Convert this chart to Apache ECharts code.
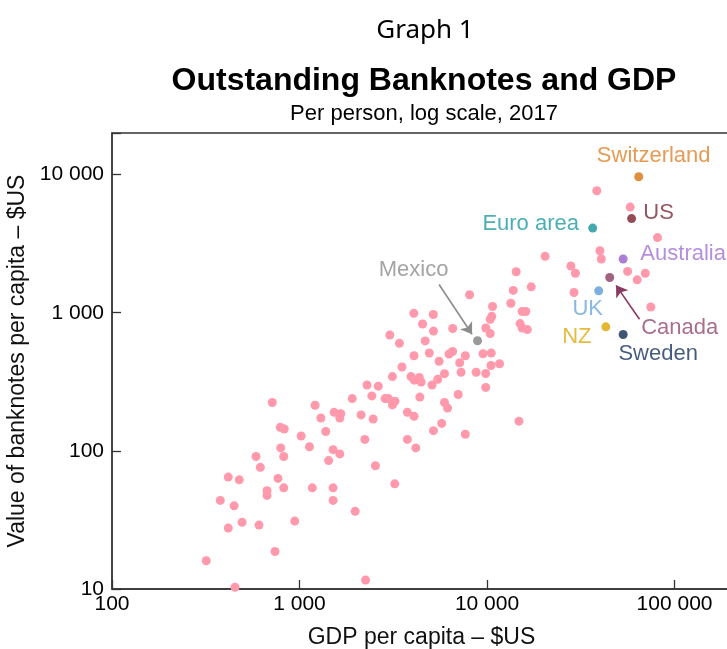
<!DOCTYPE html>
<html>
<head>
<meta charset="utf-8">
<script src="https://cdn.jsdelivr.net/npm/echarts@6/dist/echarts.min.js"></script>
<style>
  html, body { margin: 0; padding: 0; background: #fff; }
  #chart { width: 727px; height: 649px; }
</style>
</head>
<body>
<div id="chart"></div>
<script>
// other economies (pink dots): GDP per capita and banknotes per capita, $US
var gdp = [
    716, 1210, 1300, 1530, 1660, 1640, 1910, 2130, 2290, 2430,
    2630, 2470, 2860, 2980, 3130, 3520, 3130, 3230, 3760, 3930,
    3760, 790, 829, 1020, 1380, 794, 1130, 1510, 1640, 2230,
    1430, 586, 618, 824, 2540, 417, 477, 768, 671, 671,
    824, 1170, 1510, 1510, 3220, 378, 448, 417, 494, 608,
    943, 1980, 740, 318, 2250, 453, 4080, 4920, 6270, 6550,
    7660, 9520, 10530, 5550, 7150, 10500, 11660, 4090, 4350, 4450,
    5090, 5460, 5930, 7270, 8750, 9840, 9840, 4380, 7020, 5930,
    6160, 4080, 5730, 5180, 7660, 4170, 14800, 8070, 4070, 5170,
    10700, 13400, 13800, 4530, 5180, 6560, 10600, 10400, 9850, 10400,
    3030, 3410, 4680, 20400, 28000, 29600, 14300, 17200, 29100, 15400,
    16100, 15000, 15400, 16400, 38500, 58000, 81100, 40000, 40700, 56200,
    63200, 69800, 74700
];
var notes = [
    224, 214, 173, 190, 186, 173, 239, 182, 300, 250,
    294, 170, 239, 239, 345, 405, 215, 229, 190, 345,
    121, 148, 144, 128, 138, 105, 107, 102, 95, 121,
    85, 91, 76, 91, 78, 64.6, 61.7, 63.2, 51.4, 47.6,
    54, 54, 54, 43.8, 57.7, 43.8, 40, 27.6, 30.4, 29,
    31, 36.5, 18.7, 16, 11.6, 10.3, 488, 511, 503, 524,
    488, 505, 511, 445, 434, 415, 427, 325, 340, 315,
    300, 330, 362, 371, 371, 363, 288, 245, 256, 224,
    204, 178, 158, 140, 132, 105, 164, 1350, 990, 971,
    1110, 1170, 1450, 829, 736, 769, 942, 896, 775, 706,
    690, 601, 625, 2560, 2180, 1930, 1980, 1540, 1400, 1020,
    1020, 834, 775, 755, 7640, 5820, 3500, 2810, 2450, 1990,
    1730, 1930, 1100
];

// highlighted economies
var countries = ['Switzerland', 'US', 'Euro area', 'Australia', 'Canada', 'UK', 'NZ', 'Sweden', 'Mexico'];
var countryGdp = [64400, 59000, 36600, 53200, 45100, 39400, 43000, 53200, 8900];
var countryNotes = [9640, 4800, 4100, 2450, 1800, 1440, 790, 695, 627];

// arrows (data space): [from, to]
var mexicoArrow = [[5550, 1600], [8320, 698]];
var canadaArrow = [[65000, 896], [48750, 1578]];

var xTicks = [100, 1000, 10000, 100000];
var yTicks = [10, 100, 1000, 10000];

// styles per country: dot colour, label colour, label offset from dot centre
var countryStyle = {
    'Switzerland': { dot: '#d8730e', text: '#e0822a', offset: [15, -21] },
    'US':          { dot: '#7a1f2d', text: '#7a2a3a', offset: [27, -6] },
    'Euro area':   { dot: '#16929a', text: '#1d9aa3', offset: [-62, -4] },
    'Australia':   { dot: '#9460c8', text: '#a272d4', offset: [60, -5] },
    'Canada':      { dot: '#8a3a62', text: '#934a70', offset: [70, 50] },
    'UK':          { dot: '#5b9bd5', text: '#6aa6dc', offset: [-11, 18] },
    'NZ':          { dot: '#dba500', text: '#e0ab10', offset: [-29, 10] },
    'Sweden':      { dot: '#0f2a52', text: '#17325e', offset: [35, 19] },
    'Mexico':      { dot: '#7f7f7f', text: '#8c8c8c', offset: [-64, -71] }
};

function fmtTick(v) {
    var l = Math.log10(v);
    if (Math.abs(l - Math.round(l)) > 1e-6) return '';
    return String(Math.round(v)).replace(/\B(?=(\d{3})+(?!\d))/g, ' ');
}

var pink = gdp.map(function(g, i) { return [g, notes[i]]; });
var named = countries.map(function(c, i) {
    var st = countryStyle[c];
    return {
        name: c,
        value: [countryGdp[i], countryNotes[i]],
        itemStyle: { color: st.dot },
        label: { color: st.text, offset: st.offset }
    };
});

var font = 'Liberation Sans';
var option = {
    animation: false,
    backgroundColor: '#fff',
    title: [{
        text: 'Graph 1', left: 420, top: 13, textAlign: 'center',
        textStyle: { fontFamily: 'Noto Sans', fontWeight: 'normal', fontSize: 26, color: '#000' }
    }, {
        text: 'Outstanding Banknotes and GDP', left: 419, top: 60, textAlign: 'center',
        textStyle: { fontFamily: font, fontWeight: 'bold', fontSize: 32, color: '#000' }
    }, {
        text: 'Per person, log scale, 2017', left: 419, top: 98, textAlign: 'center',
        textStyle: { fontFamily: font, fontWeight: 'normal', fontSize: 22, color: '#000' }
    }],
    grid: {
        left: 112,
        right: -4,
        top: 133,
        bottom: 60,
        outerBoundsMode: 'none',
        show: true,
        borderColor: '#333',
        borderWidth: 1.3
    },
    xAxis: {
        type: 'log',
        min: xTicks[0],
        max: 200000,
        name: 'GDP per capita – $US',
        nameLocation: 'middle',
        nameGap: 37,
        nameTextStyle: { fontFamily: font, fontSize: 23, color: '#111' },
        axisLine: { lineStyle: { color: '#333', width: 1.5 } },
        axisTick: { inside: true, length: 9, lineStyle: { color: '#333', width: 1.3 } },
        axisLabel: { formatter: fmtTick, fontFamily: font, fontSize: 21, color: '#000', margin: 5 },
        splitLine: { show: false }
    },
    yAxis: {
        type: 'log',
        min: yTicks[0],
        max: 20000,
        name: 'Value of banknotes per capita – $US',
        nameLocation: 'middle',
        nameGap: 77,
        nameTextStyle: { fontFamily: font, fontSize: 23, color: '#111' },
        axisLine: { show: true, lineStyle: { color: '#333', width: 1.5 } },
        axisTick: { show: true, inside: true, length: 9, lineStyle: { color: '#333', width: 1.3 } },
        axisLabel: { formatter: fmtTick, fontFamily: font, fontSize: 21, color: '#000', margin: 8 },
        splitLine: { show: false }
    },
    series: [{
        type: 'scatter',
        name: 'Others',
        data: pink,
        symbolSize: 9,
        itemStyle: { color: '#ff99ab', opacity: 1 },
        z: 2
    }, {
        type: 'scatter',
        name: 'Highlighted',
        data: named,
        symbolSize: 9,
        z: 3,
        label: {
            show: true,
            position: 'inside',
            formatter: '{b}',
            fontFamily: font,
            fontSize: 22
        },
        markLine: {
            silent: true,
            symbol: ['none', 'arrow'],
            symbolSize: 11,
            label: { show: false },
            data: [
                [{ coord: mexicoArrow[0], lineStyle: { color: '#8c8c8c', width: 1.6, type: 'solid' } },
                 { coord: mexicoArrow[1] }],
                [{ coord: canadaArrow[0], lineStyle: { color: '#8a3a62', width: 1.6, type: 'solid' } },
                 { coord: canadaArrow[1] }]
            ]
        }
    }]
};

var myChart = echarts.init(document.getElementById('chart'));
myChart.setOption(option);
</script>
</body>
</html>
